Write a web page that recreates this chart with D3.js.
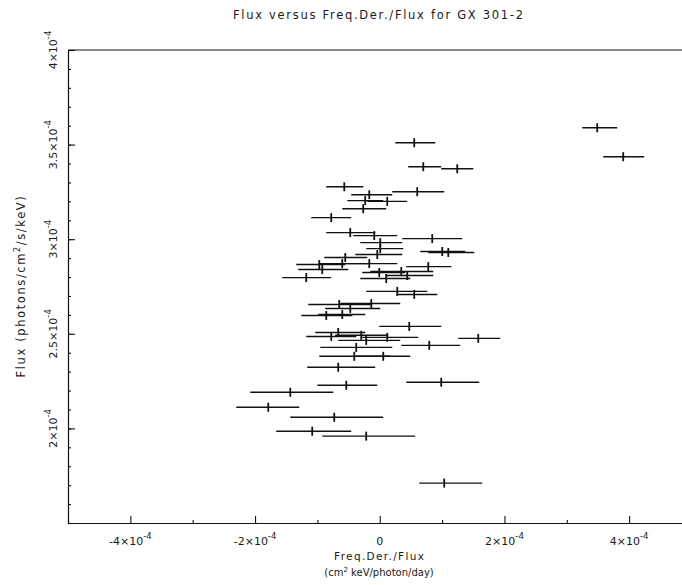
<!DOCTYPE html>
<html><head><meta charset="utf-8">
<script src="https://cdn.jsdelivr.net/npm/d3@7"></script>
<style>
body{margin:0;background:#fff}
svg{display:block}
text{font-family:"DejaVu Sans",sans-serif;fill:#1a1a1a}
</style>
</head><body>
<svg id="chart" width="682" height="585"></svg>
<script>
// Values in units of 1e-4
const freqDer   = [0.553,0.698,1.243,-0.569,-0.168,0.601,-0.233,0.120,-0.265,-0.778,-0.473,-0.088,0.008,0.842,0.008,-0.040,1.002,1.099,-0.553,-0.970,-0.601,-0.168,-0.922,0.778,-1.179,-0.008,0.345,0.441,0.104,0.281,0.553,-0.650,-0.136,-0.473,-0.858,-0.601,0.473,-0.666,-0.778,-0.297,-0.217,0.120,1.580,0.794,-0.377,-0.409,0.056,-0.666,-0.537,0.986,-1.435,-1.788,-0.730,-1.083,-0.217,1.034,3.488,3.905];
const freqDerLo = [0.249,0.457,0.986,-0.858,-0.457,0.200,-0.521,-0.200,-0.601,-1.099,-0.858,-0.425,-0.313,0.361,-0.217,-0.393,0.650,0.778,-0.890,-1.339,-0.986,-0.601,-1.307,0.425,-1.564,-0.281,-0.152,0.088,-0.313,-0.217,0.265,-1.147,-0.634,-0.874,-1.259,-0.986,-0.008,-1.035,-1.179,-0.714,-0.666,-0.281,1.259,0.345,-0.954,-0.970,-0.393,-1.163,-1.002,0.425,-2.077,-2.301,-1.435,-1.660,-0.922,0.634,3.248,3.585];
const freqDerHi = [0.890,0.986,1.500,-0.265,0.200,1.034,0.056,0.441,0.104,-0.457,-0.072,0.281,0.361,1.323,0.377,0.361,1.371,1.516,-0.200,-0.553,-0.184,0.281,-0.505,1.147,-0.778,0.409,0.858,0.858,0.489,0.762,0.922,-0.120,0.329,0.008,-0.441,-0.233,0.986,-0.233,-0.377,0.136,0.329,0.618,1.933,1.291,0.200,0.168,0.489,-0.072,-0.040,1.596,-0.746,-1.291,0.056,-0.457,0.569,1.644,3.809,4.242];
const flux      = [3.510,3.383,3.372,3.277,3.235,3.251,3.204,3.200,3.161,3.114,3.035,3.019,2.982,3.003,2.950,2.919,2.935,2.930,2.903,2.866,2.871,2.871,2.840,2.855,2.797,2.824,2.829,2.808,2.792,2.724,2.708,2.655,2.660,2.634,2.597,2.602,2.539,2.507,2.486,2.492,2.465,2.481,2.476,2.439,2.428,2.381,2.381,2.323,2.228,2.244,2.191,2.112,2.059,1.985,1.959,1.711,3.589,3.436];

const xMajorTicks = [-4,-2,0,2,4];
const xMinorTicks = [-5,-3,-1,1,3,5];
const xTickMantissa = ["-4","-2","0","2","4"];
const yMajorTicks = [2,2.5,3,3.5,4];
const yTickMantissa = ["2","2.5","3","3.5","4"];
const yMinorTicks = d3.range(15,41).map(v=>v/10);
const tickExponent = "-4";

const titleText = "Flux versus Freq.Der./Flux for GX 301-2";
const xLabel1 = "Freq.Der./Flux";
const yLabelParts = ["Flux (photons/cm","2","/s/keV)"];
const xLabel2Parts = ["(cm","2"," keV/photon/day)"];

const svg = d3.select("#chart");
const x = d3.scaleLinear().domain([-5,5]).range([68,691.5]);
const y = d3.scaleLinear().domain([1.5,4]).range([523,50]);

// frame
const frame = svg.append("g").attr("stroke","#111").attr("stroke-width",1.1).attr("fill","none");
frame.append("line").attr("x1",x(-5)).attr("x2",x(5)).attr("y1",y(4)).attr("y2",y(4));
frame.append("line").attr("x1",x(5)).attr("x2",x(5)).attr("y1",y(4)).attr("y2",y(1.5));

// axes
function styleAxis(g){ g.selectAll("path,line").attr("stroke","#111").attr("stroke-width",1.1); g.selectAll("text").remove(); }
svg.append("g").attr("transform",`translate(0,${y(1.5)})`)
  .call(d3.axisBottom(x).tickValues(xMinorTicks).tickSize(-3).tickSizeOuter(0).tickFormat(""))
  .call(styleAxis);
svg.append("g").attr("transform",`translate(0,${y(1.5)})`)
  .call(d3.axisBottom(x).tickValues(xMajorTicks).tickSize(-7).tickSizeOuter(0).tickFormat(""))
  .call(styleAxis);
svg.append("g").attr("transform",`translate(${x(-5)},0)`)
  .call(d3.axisLeft(y).tickValues(yMinorTicks).tickSize(-3).tickSizeOuter(0).tickFormat(""))
  .call(styleAxis);
svg.append("g").attr("transform",`translate(${x(-5)},0)`)
  .call(d3.axisLeft(y).tickValues(yMajorTicks).tickSize(-7).tickSizeOuter(0).tickFormat(""))
  .call(styleAxis);

// x tick labels
xMajorTicks.forEach((v,i)=>{
  const t = svg.append("text").attr("x",x(v)).attr("y",545).attr("text-anchor","middle").attr("font-size",11);
  if (v===0){ t.text(xTickMantissa[i]); return; }
  t.append("tspan").text(xTickMantissa[i]+"×10");
  t.append("tspan").attr("dy",-6).attr("font-size",8.5).text(tickExponent);
});
// y tick labels (rotated)
yMajorTicks.forEach((v,i)=>{
  const t = svg.append("text").attr("transform",`translate(57,${y(v)}) rotate(-90)`).attr("text-anchor","middle").attr("font-size",11);
  t.append("tspan").text(yTickMantissa[i]+"×10");
  t.append("tspan").attr("dy",-6).attr("font-size",8.5).text(tickExponent);
});

// title
svg.append("text").attr("x",378).attr("y",19).attr("text-anchor","middle").attr("font-size",11.5)
  .attr("textLength",290).attr("lengthAdjust","spacing").text(titleText);

// x label
svg.append("text").attr("x",379).attr("y",560).attr("text-anchor","middle").attr("font-size",10.5)
  .attr("textLength",90).attr("lengthAdjust","spacing").text(xLabel1);
const xl2 = svg.append("text").attr("x",379).attr("y",576).attr("text-anchor","middle").attr("font-size",10);
xl2.append("tspan").text(xLabel2Parts[0]);
xl2.append("tspan").attr("dy",-4).attr("font-size",7).text(xLabel2Parts[1]);
xl2.append("tspan").attr("dy",4).text(xLabel2Parts[2]);

// y label
const yl = svg.append("text").attr("transform",`translate(25,286) rotate(-90)`).attr("text-anchor","middle")
  .attr("font-size",11.5).attr("letter-spacing",1.6);
yl.append("tspan").text(yLabelParts[0]);
yl.append("tspan").attr("dy",-5).attr("font-size",8).text(yLabelParts[1]);
yl.append("tspan").attr("dy",5).text(yLabelParts[2]);

// data
const pts = freqDer.map((d,i)=>({x:d, lo:freqDerLo[i], hi:freqDerHi[i], y:flux[i]}));
const g = svg.append("g").attr("stroke","#111");
g.selectAll(".eb").data(pts).join("line").attr("class","eb")
  .attr("x1",d=>x(d.lo)).attr("x2",d=>x(d.hi)).attr("y1",d=>y(d.y)).attr("y2",d=>y(d.y))
  .attr("stroke-width",1.4);
g.selectAll(".pt").data(pts).join("line").attr("class","pt")
  .attr("x1",d=>x(d.x)).attr("x2",d=>x(d.x)).attr("y1",d=>y(d.y)-4.5).attr("y2",d=>y(d.y)+4.5)
  .attr("stroke-width",1.8);
</script>
</body></html>
